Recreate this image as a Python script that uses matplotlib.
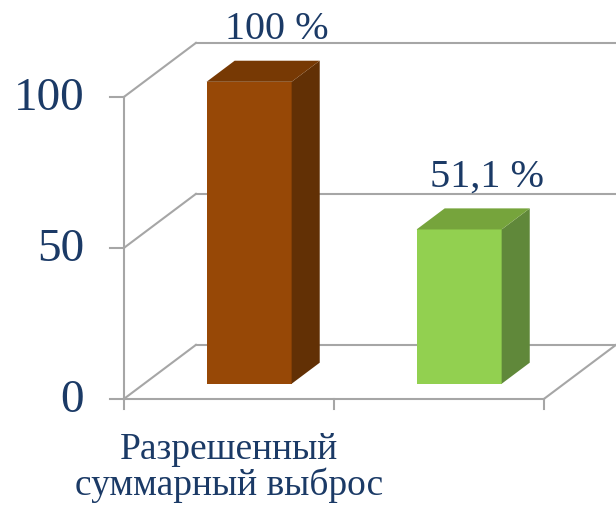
import matplotlib
matplotlib.use('Agg')
import matplotlib.pyplot as plt

categories  = ['Разрешенный\nсуммарный выброс', '']
values      = [100, 51.1]
value_texts = ['100 %', '51,1 %']
y_ticks     = [0, 50, 100]

front_colors = ['#974806', '#92D050']
side_colors  = ['#623005', '#60883A']
top_colors   = ['#773904', '#76A43C']
text_color   = '#1B3A66'
grid_color   = '#A6A6A6'

# oblique "3d" projection: full depth shifts x by DX (category units), y by DY (value units)
DX = 0.343
DY = 17.9
bar_d0, bar_d1 = 0.28, 0.67
bar_w = 0.405

def proj(x, v, d):
	return x + DX * d, v + DY * d

fig = plt.figure(figsize=(6.16, 5.07), dpi=100)
ax = fig.add_axes([0, 0, 1, 1])
ax.set_xlim(-0.590, 2.343)
ax.set_ylim(-35.8, 132.1)
ax.axis('off')
font = 'Liberation Serif'
n = len(categories)

# walls and floor
for v in y_ticks:
	x0, y0 = proj(0, v, 0)
	x1, y1 = proj(0, v, 1)
	ax.plot([x0, x1], [y0, y1], color=grid_color, lw=1.5, zorder=1)
	bx0, by0 = proj(0, v, 1)
	bx1, by1 = proj(n, v, 1)
	ax.plot([bx0, bx1], [by0, by1], color=grid_color, lw=1.5, zorder=1)
	# tick and label
	ax.plot([-0.067, 0], [v, v], color=grid_color, lw=1.5, zorder=1)
	ax.text(-0.19, v - 0.5, str(v), ha='right', va='center', fontsize=34,
	        family=font, color=text_color)
ax.plot([0, 0], [0, 100], color=grid_color, lw=1.5, zorder=1)
ax.plot([0, n], [0, 0], color=grid_color, lw=1.5, zorder=1)
fx, fy = proj(n, 0, 1)
ax.plot([n, fx], [0, fy], color=grid_color, lw=1.5, zorder=1)
for i in range(n + 1):
	ax.plot([i, i], [0, -3.5], color=grid_color, lw=1.5, zorder=1)

# bars
for i, v in enumerate(values):
	xl = i + 0.5 - bar_w / 2
	xr = i + 0.5 + bar_w / 2
	a = proj(xl, 0, bar_d0); b = proj(xr, 0, bar_d0)
	c = proj(xr, v, bar_d0); d = proj(xl, v, bar_d0)
	e = proj(xr, 0, bar_d1); f = proj(xr, v, bar_d1); g = proj(xl, v, bar_d1)
	ax.fill([a[0], b[0], c[0], d[0]], [a[1], b[1], c[1], d[1]], color=front_colors[i], zorder=3, lw=0)
	ax.fill([b[0], e[0], f[0], c[0]], [b[1], e[1], f[1], c[1]], color=side_colors[i], zorder=3, lw=0)
	ax.fill([d[0], c[0], f[0], g[0]], [d[1], c[1], f[1], g[1]], color=top_colors[i], zorder=3, lw=0)
	tx, ty = proj(i + 0.5, v, bar_d1)
	ax.annotate(value_texts[i], (tx, ty), xytext=(0, 15.5), textcoords='offset points',
	            ha='center', va='baseline', fontsize=29, family=font, color=text_color)

# category labels
for i, lab in enumerate(categories):
	ax.text(i + 0.5, -11, lab, ha='center', va='top', fontsize=27, family=font,
	        color=text_color, linespacing=1.05)

plt.savefig('out.png', dpi=100)
plt.close()
